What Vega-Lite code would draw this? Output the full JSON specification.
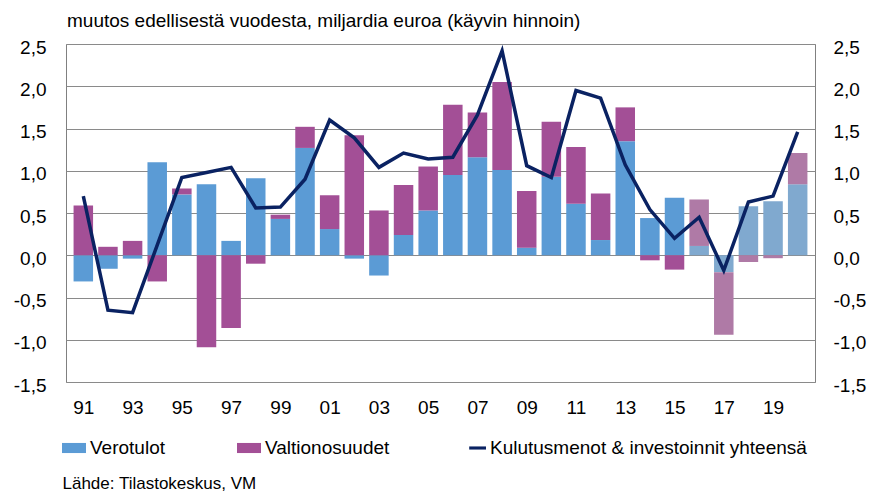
{
  "$schema": "https://vega.github.io/schema/vega-lite/v6.json",
  "width": 749,
  "height": 338,
  "autosize": {"type": "none"},
  "padding": {"left": 66, "top": 44, "right": 58, "bottom": 109},
  "background": "white",
  "config": {
    "font": "Liberation Sans",
    "view": {"stroke": "#808080", "strokeWidth": 1},
    "axis": {"labelFont": "Liberation Sans", "labelColor": "#000000", "titleFont": "Liberation Sans"},
    "legend": {"labelFont": "Liberation Sans"}
  },
  "title": {
    "text": "muutos edellisestä vuodesta, miljardia euroa (käyvin hinnoin)",
    "anchor": "start",
    "frame": "group",
    "fontSize": 19,
    "fontWeight": "normal",
    "color": "#000000",
    "baseline": "alphabetic",
    "offset": 9,
    "dy": 17,
    "dx": 1
  },
  "datasets": {
    "bars": [
      {"vuosi": 1991, "sarja": "Verotulot", "arvo": -0.31, "ennuste": false},
      {"vuosi": 1991, "sarja": "Valtionosuudet", "arvo": 0.59, "ennuste": false},
      {"vuosi": 1992, "sarja": "Verotulot", "arvo": -0.16, "ennuste": false},
      {"vuosi": 1992, "sarja": "Valtionosuudet", "arvo": 0.10, "ennuste": false},
      {"vuosi": 1993, "sarja": "Verotulot", "arvo": -0.04, "ennuste": false},
      {"vuosi": 1993, "sarja": "Valtionosuudet", "arvo": 0.17, "ennuste": false},
      {"vuosi": 1994, "sarja": "Verotulot", "arvo": 1.10, "ennuste": false},
      {"vuosi": 1994, "sarja": "Valtionosuudet", "arvo": -0.31, "ennuste": false},
      {"vuosi": 1995, "sarja": "Verotulot", "arvo": 0.72, "ennuste": false},
      {"vuosi": 1995, "sarja": "Valtionosuudet", "arvo": 0.07, "ennuste": false},
      {"vuosi": 1996, "sarja": "Verotulot", "arvo": 0.84, "ennuste": false},
      {"vuosi": 1996, "sarja": "Valtionosuudet", "arvo": -1.09, "ennuste": false},
      {"vuosi": 1997, "sarja": "Verotulot", "arvo": 0.17, "ennuste": false},
      {"vuosi": 1997, "sarja": "Valtionosuudet", "arvo": -0.86, "ennuste": false},
      {"vuosi": 1998, "sarja": "Verotulot", "arvo": 0.91, "ennuste": false},
      {"vuosi": 1998, "sarja": "Valtionosuudet", "arvo": -0.10, "ennuste": false},
      {"vuosi": 1999, "sarja": "Verotulot", "arvo": 0.43, "ennuste": false},
      {"vuosi": 1999, "sarja": "Valtionosuudet", "arvo": 0.05, "ennuste": false},
      {"vuosi": 2000, "sarja": "Verotulot", "arvo": 1.27, "ennuste": false},
      {"vuosi": 2000, "sarja": "Valtionosuudet", "arvo": 0.25, "ennuste": false},
      {"vuosi": 2001, "sarja": "Verotulot", "arvo": 0.31, "ennuste": false},
      {"vuosi": 2001, "sarja": "Valtionosuudet", "arvo": 0.40, "ennuste": false},
      {"vuosi": 2002, "sarja": "Verotulot", "arvo": -0.04, "ennuste": false},
      {"vuosi": 2002, "sarja": "Valtionosuudet", "arvo": 1.42, "ennuste": false},
      {"vuosi": 2003, "sarja": "Verotulot", "arvo": -0.24, "ennuste": false},
      {"vuosi": 2003, "sarja": "Valtionosuudet", "arvo": 0.53, "ennuste": false},
      {"vuosi": 2004, "sarja": "Verotulot", "arvo": 0.24, "ennuste": false},
      {"vuosi": 2004, "sarja": "Valtionosuudet", "arvo": 0.59, "ennuste": false},
      {"vuosi": 2005, "sarja": "Verotulot", "arvo": 0.53, "ennuste": false},
      {"vuosi": 2005, "sarja": "Valtionosuudet", "arvo": 0.52, "ennuste": false},
      {"vuosi": 2006, "sarja": "Verotulot", "arvo": 0.95, "ennuste": false},
      {"vuosi": 2006, "sarja": "Valtionosuudet", "arvo": 0.83, "ennuste": false},
      {"vuosi": 2007, "sarja": "Verotulot", "arvo": 1.16, "ennuste": false},
      {"vuosi": 2007, "sarja": "Valtionosuudet", "arvo": 0.53, "ennuste": false},
      {"vuosi": 2008, "sarja": "Verotulot", "arvo": 1.01, "ennuste": false},
      {"vuosi": 2008, "sarja": "Valtionosuudet", "arvo": 1.04, "ennuste": false},
      {"vuosi": 2009, "sarja": "Verotulot", "arvo": 0.09, "ennuste": false},
      {"vuosi": 2009, "sarja": "Valtionosuudet", "arvo": 0.67, "ennuste": false},
      {"vuosi": 2010, "sarja": "Verotulot", "arvo": 0.93, "ennuste": false},
      {"vuosi": 2010, "sarja": "Valtionosuudet", "arvo": 0.65, "ennuste": false},
      {"vuosi": 2011, "sarja": "Verotulot", "arvo": 0.61, "ennuste": false},
      {"vuosi": 2011, "sarja": "Valtionosuudet", "arvo": 0.67, "ennuste": false},
      {"vuosi": 2012, "sarja": "Verotulot", "arvo": 0.18, "ennuste": false},
      {"vuosi": 2012, "sarja": "Valtionosuudet", "arvo": 0.55, "ennuste": false},
      {"vuosi": 2013, "sarja": "Verotulot", "arvo": 1.35, "ennuste": false},
      {"vuosi": 2013, "sarja": "Valtionosuudet", "arvo": 0.40, "ennuste": false},
      {"vuosi": 2014, "sarja": "Verotulot", "arvo": 0.44, "ennuste": false},
      {"vuosi": 2014, "sarja": "Valtionosuudet", "arvo": -0.06, "ennuste": false},
      {"vuosi": 2015, "sarja": "Verotulot", "arvo": 0.68, "ennuste": false},
      {"vuosi": 2015, "sarja": "Valtionosuudet", "arvo": -0.17, "ennuste": false},
      {"vuosi": 2016, "sarja": "Verotulot", "arvo": 0.11, "ennuste": true},
      {"vuosi": 2016, "sarja": "Valtionosuudet", "arvo": 0.55, "ennuste": true},
      {"vuosi": 2017, "sarja": "Verotulot", "arvo": -0.20, "ennuste": true},
      {"vuosi": 2017, "sarja": "Valtionosuudet", "arvo": -0.74, "ennuste": true},
      {"vuosi": 2018, "sarja": "Verotulot", "arvo": 0.58, "ennuste": true},
      {"vuosi": 2018, "sarja": "Valtionosuudet", "arvo": -0.08, "ennuste": true},
      {"vuosi": 2019, "sarja": "Verotulot", "arvo": 0.64, "ennuste": true},
      {"vuosi": 2019, "sarja": "Valtionosuudet", "arvo": -0.035, "ennuste": true},
      {"vuosi": 2020, "sarja": "Verotulot", "arvo": 0.84, "ennuste": true},
      {"vuosi": 2020, "sarja": "Valtionosuudet", "arvo": 0.37, "ennuste": true}
    ],
    "line": [
      {"vuosi": 1991, "sarja": "Kulutusmenot & investoinnit yhteensä", "arvo": 0.70},
      {"vuosi": 1992, "sarja": "Kulutusmenot & investoinnit yhteensä", "arvo": -0.65},
      {"vuosi": 1993, "sarja": "Kulutusmenot & investoinnit yhteensä", "arvo": -0.68},
      {"vuosi": 1994, "sarja": "Kulutusmenot & investoinnit yhteensä", "arvo": 0.12},
      {"vuosi": 1995, "sarja": "Kulutusmenot & investoinnit yhteensä", "arvo": 0.92},
      {"vuosi": 1996, "sarja": "Kulutusmenot & investoinnit yhteensä", "arvo": 0.98},
      {"vuosi": 1997, "sarja": "Kulutusmenot & investoinnit yhteensä", "arvo": 1.04},
      {"vuosi": 1998, "sarja": "Kulutusmenot & investoinnit yhteensä", "arvo": 0.56},
      {"vuosi": 1999, "sarja": "Kulutusmenot & investoinnit yhteensä", "arvo": 0.57},
      {"vuosi": 2000, "sarja": "Kulutusmenot & investoinnit yhteensä", "arvo": 0.90},
      {"vuosi": 2001, "sarja": "Kulutusmenot & investoinnit yhteensä", "arvo": 1.60},
      {"vuosi": 2002, "sarja": "Kulutusmenot & investoinnit yhteensä", "arvo": 1.39},
      {"vuosi": 2003, "sarja": "Kulutusmenot & investoinnit yhteensä", "arvo": 1.04},
      {"vuosi": 2004, "sarja": "Kulutusmenot & investoinnit yhteensä", "arvo": 1.21},
      {"vuosi": 2005, "sarja": "Kulutusmenot & investoinnit yhteensä", "arvo": 1.14},
      {"vuosi": 2006, "sarja": "Kulutusmenot & investoinnit yhteensä", "arvo": 1.16},
      {"vuosi": 2007, "sarja": "Kulutusmenot & investoinnit yhteensä", "arvo": 1.66},
      {"vuosi": 2008, "sarja": "Kulutusmenot & investoinnit yhteensä", "arvo": 2.42},
      {"vuosi": 2009, "sarja": "Kulutusmenot & investoinnit yhteensä", "arvo": 1.06},
      {"vuosi": 2010, "sarja": "Kulutusmenot & investoinnit yhteensä", "arvo": 0.92},
      {"vuosi": 2011, "sarja": "Kulutusmenot & investoinnit yhteensä", "arvo": 1.95},
      {"vuosi": 2012, "sarja": "Kulutusmenot & investoinnit yhteensä", "arvo": 1.86},
      {"vuosi": 2013, "sarja": "Kulutusmenot & investoinnit yhteensä", "arvo": 1.07},
      {"vuosi": 2014, "sarja": "Kulutusmenot & investoinnit yhteensä", "arvo": 0.54},
      {"vuosi": 2015, "sarja": "Kulutusmenot & investoinnit yhteensä", "arvo": 0.20},
      {"vuosi": 2016, "sarja": "Kulutusmenot & investoinnit yhteensä", "arvo": 0.45},
      {"vuosi": 2017, "sarja": "Kulutusmenot & investoinnit yhteensä", "arvo": -0.18},
      {"vuosi": 2018, "sarja": "Kulutusmenot & investoinnit yhteensä", "arvo": 0.63},
      {"vuosi": 2019, "sarja": "Kulutusmenot & investoinnit yhteensä", "arvo": 0.70},
      {"vuosi": 2020, "sarja": "Kulutusmenot & investoinnit yhteensä", "arvo": 1.46}
    ]
  },
  "layer": [
    {
      "mark": {"type": "rect", "fill": "#000000", "fillOpacity": 0.105},
      "encoding": {
        "x": {"datum": 2015.5, "type": "quantitative", "scale": {"domain": [1990.5, 2020.5], "nice": false, "zero": false}},
        "x2": {"datum": 2020.5},
        "y": {"datum": -1.5, "type": "quantitative", "axis": null},
        "y2": {"datum": 2.5}
      }
    },
    {
      "data": {"name": "bars"},
      "mark": {"type": "bar", "size": 19.5},
      "encoding": {
        "x": {
          "field": "vuosi", "type": "quantitative",
          "scale": {"domain": [1990.5, 2020.5], "nice": false, "zero": false},
          "axis": {
            "values": [1991, 1993, 1995, 1997, 1999, 2001, 2003, 2005, 2007, 2009, 2011, 2013, 2015, 2017, 2019],
            "labelExpr": "slice(toString(datum.value), 2)",
            "labelFontSize": 19,
            "labelPadding": 16,
            "ticks": false,
            "tickSize": 0,
            "domain": false,
            "grid": false,
            "title": "Lähde: Tilastokeskus, VM",
            "titleFontSize": 17,
            "titleFontWeight": "normal",
            "titleColor": "#000000",
            "titleAnchor": "start",
            "titleAlign": "left",
            "titleBaseline": "alphabetic",
            "titleX": -4,
            "titleY": 106
          }
        },
        "y": {
          "field": "arvo", "type": "quantitative", "stack": "zero",
          "scale": {"domain": [-1.5, 2.5], "nice": false, "zero": false},
          "axis": {
            "orient": "left",
            "values": [-1.5, -1, -0.5, 0, 0.5, 1, 1.5, 2, 2.5],
            "labelExpr": "replace(replace(format(datum.value, '.1f'), '.', ','), '−', '-')",
            "labelFontSize": 19,
            "labelPadding": 20,
            "labelOffset": 3,
            "ticks": false,
            "tickSize": 0,
            "domain": false,
            "grid": true,
            "gridColor": "#8a8a8a",
            "gridWidth": 1,
            "title": null
          }
        },
        "color": {
          "field": "sarja", "type": "nominal",
          "scale": {
            "domain": ["Verotulot", "Valtionosuudet", "Kulutusmenot & investoinnit yhteensä"],
            "range": ["#5B9BD5", "#A34F96", "#0A2262"]
          },
          "condition": [
            {"test": "datum.ennuste && datum.sarja === 'Verotulot'", "value": "#80A9CF"},
            {"test": "datum.ennuste && datum.sarja === 'Valtionosuudet'", "value": "#AF7AA6"}
          ],
          "legend": {
            "orient": "none",
            "legendX": -4,
            "legendY": 392,
            "direction": "horizontal",
            "title": null,
            "labelFontSize": 19,
            "labelColor": "#000000",
            "labelOffset": 4,
            "labelLimit": 500,
            "columnPadding": 72,
            "symbolSize": 576,
            "symbolStrokeWidth": 0,
            "symbolOpacity": 1,
            "symbolType": "M-1,-0.42H1V0.42H-1Z",
            "encode": {
              "symbols": {
                "update": {
                  "shape": {"signal": "datum.label === 'Kulutusmenot & investoinnit yhteensä' ? 'M-0.4,-0.13H1V0.13H-0.4Z' : 'M-1,-0.42H1V0.42H-1Z'"}
                }
              }
            }
          }
        }
      }
    },
    {
      "mark": {"type": "rule", "color": "#808080", "strokeWidth": 2.5},
      "encoding": {"y": {"datum": 0, "type": "quantitative", "axis": null}}
    },
    {
      "data": {"name": "line"},
      "mark": {"type": "line", "strokeWidth": 3.5, "strokeJoin": "miter"},
      "encoding": {
        "x": {"field": "vuosi", "type": "quantitative"},
        "y": {
          "field": "arvo", "type": "quantitative",
          "axis": {
            "orient": "right",
            "values": [-1.5, -1, -0.5, 0, 0.5, 1, 1.5, 2, 2.5],
            "labelExpr": "replace(replace(format(datum.value, '.1f'), '.', ','), '−', '-')",
            "labelFontSize": 19,
            "labelPadding": 18,
            "labelOffset": 3,
            "ticks": false,
            "tickSize": 0,
            "domain": false,
            "grid": false,
            "title": null
          }
        },
        "color": {"field": "sarja", "type": "nominal"}
      }
    }
  ],
  "resolve": {"axis": {"y": "independent"}}
}
